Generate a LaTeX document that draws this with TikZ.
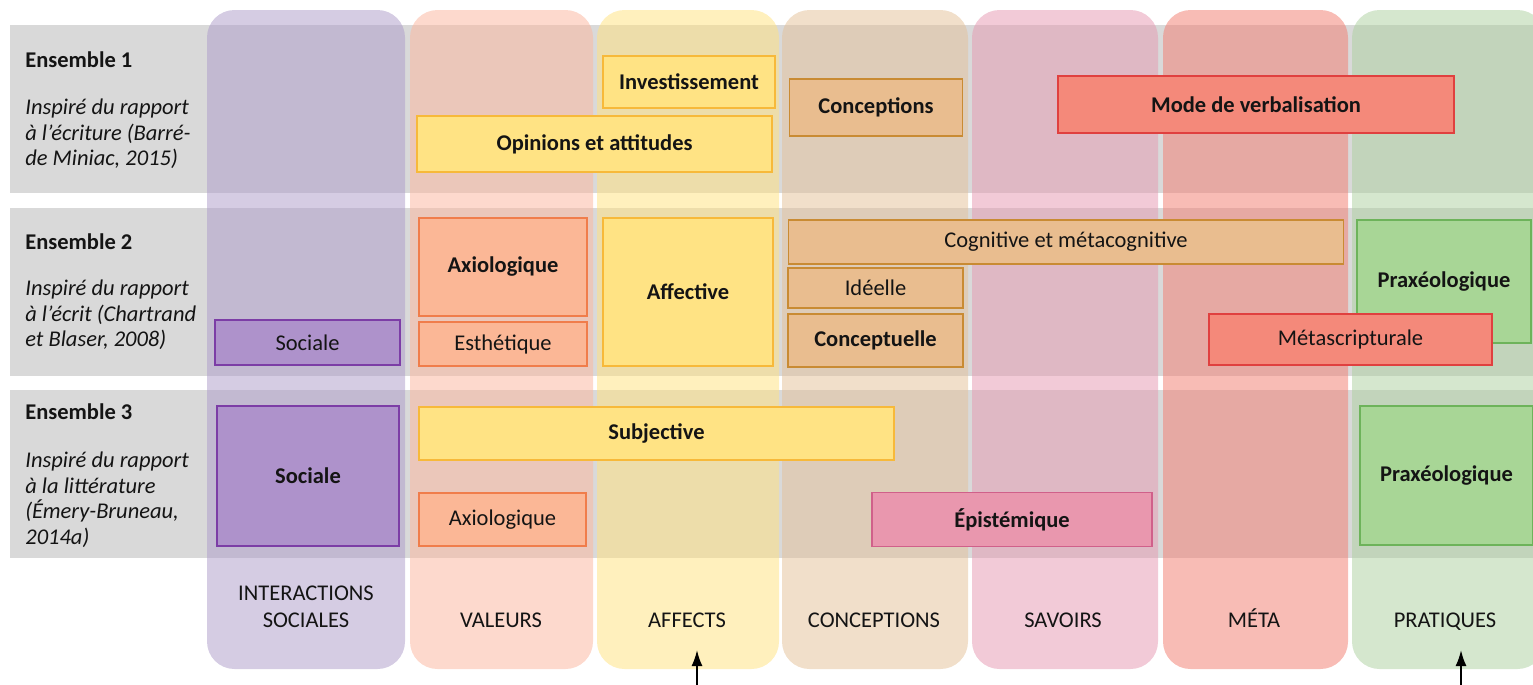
\documentclass[tikz,border=0pt]{standalone}
\usepackage{fontspec}
\setmainfont{Carlito}
\usepackage{tikz}
\usetikzlibrary{arrows.meta, positioning}

% column colours (drawn with opacity)
\definecolor{colsoc}{RGB}{175,158,202}
\definecolor{colval}{RGB}{251,183,160}
\definecolor{colaff}{RGB}{255,226,130}
\definecolor{colcon}{RGB}{228,194,155}
\definecolor{colsav}{RGB}{230,155,179}
\definecolor{colmeta}{RGB}{242,128,115}
\definecolor{colprat}{RGB}{175,209,162}
\definecolor{bandgray}{RGB}{217,217,217}
% box colours
\definecolor{socfill}{RGB}{174,146,203}
\definecolor{socline}{RGB}{124,61,166}
\definecolor{valfill}{RGB}{251,183,150}
\definecolor{valline}{RGB}{240,125,75}
\definecolor{afffill}{RGB}{255,227,132}
\definecolor{affline}{RGB}{247,185,58}
\definecolor{confill}{RGB}{233,189,143}
\definecolor{conline}{RGB}{201,139,51}
\definecolor{savfill}{RGB}{233,151,174}
\definecolor{savline}{RGB}{208,96,138}
\definecolor{metafill}{RGB}{244,137,122}
\definecolor{metaline}{RGB}{224,64,63}
\definecolor{pratfill}{RGB}{168,214,150}
\definecolor{pratline}{RGB}{109,179,90}
\definecolor{txt}{RGB}{20,20,20}

\newcommand{\basefont}{\fontsize{12.8}{14.5}\selectfont}

\begin{document}
\begin{tikzpicture}[x=0.02cm, y=-0.02cm,
  font=\basefont,
  column/.style={fill opacity=0.53, rounded corners=0.55cm},
  band/.style={fill=bandgray},
  cell/.style={draw, line width=0.8pt, inner sep=0pt, align=center, text=txt},
  strong/.style={font=\basefont\bfseries},
  socbox/.style={cell, fill=socfill, draw=socline},
  valbox/.style={cell, fill=valfill, draw=valline},
  affbox/.style={cell, fill=afffill, draw=affline},
  conbox/.style={cell, fill=confill, draw=conline},
  savbox/.style={cell, fill=savfill, draw=savline},
  metabox/.style={cell, fill=metafill, draw=metaline},
  pratbox/.style={cell, fill=pratfill, draw=pratline},
  ensemble/.style={anchor=west, inner sep=0pt, font=\basefont\bfseries, text=txt},
  source/.style={anchor=north west, inner sep=0pt, align=left, font=\basefont\itshape, text=txt},
  collabel/.style={align=center, inner sep=0pt, text=txt, text height=1.6ex, text depth=0.2ex},
  pointer/.style={line width=1.1pt, -{Latex[length=3.2mm, width=2.2mm]}}]

  \useasboundingbox (0,0) rectangle (1533,684);
  \clip (0,0) rectangle (1533,684);

  % Horizontal bands
  \fill[band] (10,25) rectangle (1540,193);
  \fill[band] (10,208) rectangle (1540,376);
  \fill[band] (10,390) rectangle (1540,558);

  % Columns
  \fill[column, colsoc] (207,10) rectangle (405,669);
  \fill[column, colval] (410,10) rectangle (593,669);
  \fill[column, colaff] (597,10) rectangle (779,669);
  \fill[column, colcon] (782,10) rectangle (968,669);
  \fill[column, colsav] (972,10) rectangle (1158,669);
  \fill[column, colmeta] (1163,10) rectangle (1348,669);
  \fill[column, colprat] (1352,10) rectangle (1545,669);

  % Row headers
  \node[ensemble] (ens1) at (25,60) {Ensemble 1};
  \node[source] (src1) at (25,99) {Inspiré du rapport\\à l’écriture (Barré-\\de Miniac, 2015)};
  \node[ensemble] (ens2) at (25,242) {Ensemble 2};
  \node[source] (src2) at (25,280) {Inspiré du rapport\\à l’écrit (Chartrand\\et Blaser, 2008)};
  \node[ensemble] (ens3) at (25,412) {Ensemble 3};
  \node[source] (src3) at (25,452) {Inspiré du rapport\\à la littérature\\(Émery-Bruneau,\\2014a)};

  % Ensemble 1
  \node[affbox, strong, minimum width=3.44cm, minimum height=1.04cm] (invest) at (689,82) {Investissement};
  \node[affbox, strong, minimum width=7.1cm, minimum height=1.12cm] (opinions) at (594.5,144) {Opinions et attitudes};
  \node[conbox, strong, minimum width=3.46cm, minimum height=1.14cm] (concep) at (876,107.5) {Conceptions};
  \node[metabox, strong, minimum width=7.92cm, minimum height=1.14cm] (verbal) at (1256,104.5) {Mode de verbalisation};

  % Ensemble 2
  \node[socbox, minimum width=3.7cm, minimum height=0.9cm] (soc2) at (307.5,342.5) {Sociale};
  \node[valbox, strong, minimum width=3.36cm, minimum height=1.96cm] (axio2) at (503,267) {Axiologique};
  \node[valbox, minimum width=3.36cm, minimum height=0.88cm] (esthe) at (503,344) {Esthétique};
  \node[affbox, strong, minimum width=3.4cm, minimum height=2.96cm] (affect) at (688,292) {Affective};
  \node[conbox, minimum width=11.1cm, minimum height=0.88cm] (cogni) at (1066,242) {Cognitive et métacognitive};
  \node[conbox, minimum width=3.5cm, minimum height=0.8cm] (ideel) at (875.5,288) {Idéelle};
  \node[conbox, strong, minimum width=3.5cm, minimum height=1.06cm] (concept) at (875.5,340.5) {Conceptuelle};
  \node[pratbox, strong, minimum width=3.48cm, minimum height=2.46cm] (praxeo2) at (1444,281.5) {Praxéologique};
  \node[metabox, minimum width=5.66cm, minimum height=1.02cm] (metascr) at (1350.5,339.5) {Métascripturale};

  % Ensemble 3
  \node[socbox, strong, minimum width=3.64cm, minimum height=2.8cm] (soc3) at (308,476) {Sociale};
  \node[affbox, strong, minimum width=9.5cm, minimum height=1.06cm] (subj) at (656.5,433.5) {Subjective};
  \node[valbox, minimum width=3.34cm, minimum height=1.06cm] (axio3) at (502.5,519.5) {Axiologique};
  \node[savbox, strong, minimum width=5.6cm, minimum height=1.08cm] (episte) at (1012,519.5) {Épistémique};
  \node[pratbox, strong, minimum width=3.46cm, minimum height=2.78cm] (praxeo3) at (1446.5,475.5) {Praxéologique};

  % Column labels
  \node[align=center, inner sep=0pt, text=txt] (lblsoc) at (306,607) {INTERACTIONS\\[1pt]SOCIALES};
  \node[collabel] (lblval) at (501,622) {VALEURS};
  \node[collabel] (lblaff) at (687,622) {AFFECTS};
  \node[collabel] (lblcon) at (874,622) {CONCEPTIONS};
  \node[collabel] (lblsav) at (1063,622) {SAVOIRS};
  \node[collabel] (lblmeta) at (1254,622) {MÉTA};
  \node[collabel] (lblprat) at (1445,622) {PRATIQUES};

  % Arrows
  \coordinate (affbase) at (697,690);
  \coordinate (afftip) at (697,650);
  \coordinate (pratbase) at (1461,690);
  \coordinate (pratip) at (1461,650);
  \draw[pointer] (affbase) -- (afftip);
  \draw[pointer] (pratbase) -- (pratip);
\end{tikzpicture}
\end{document}
